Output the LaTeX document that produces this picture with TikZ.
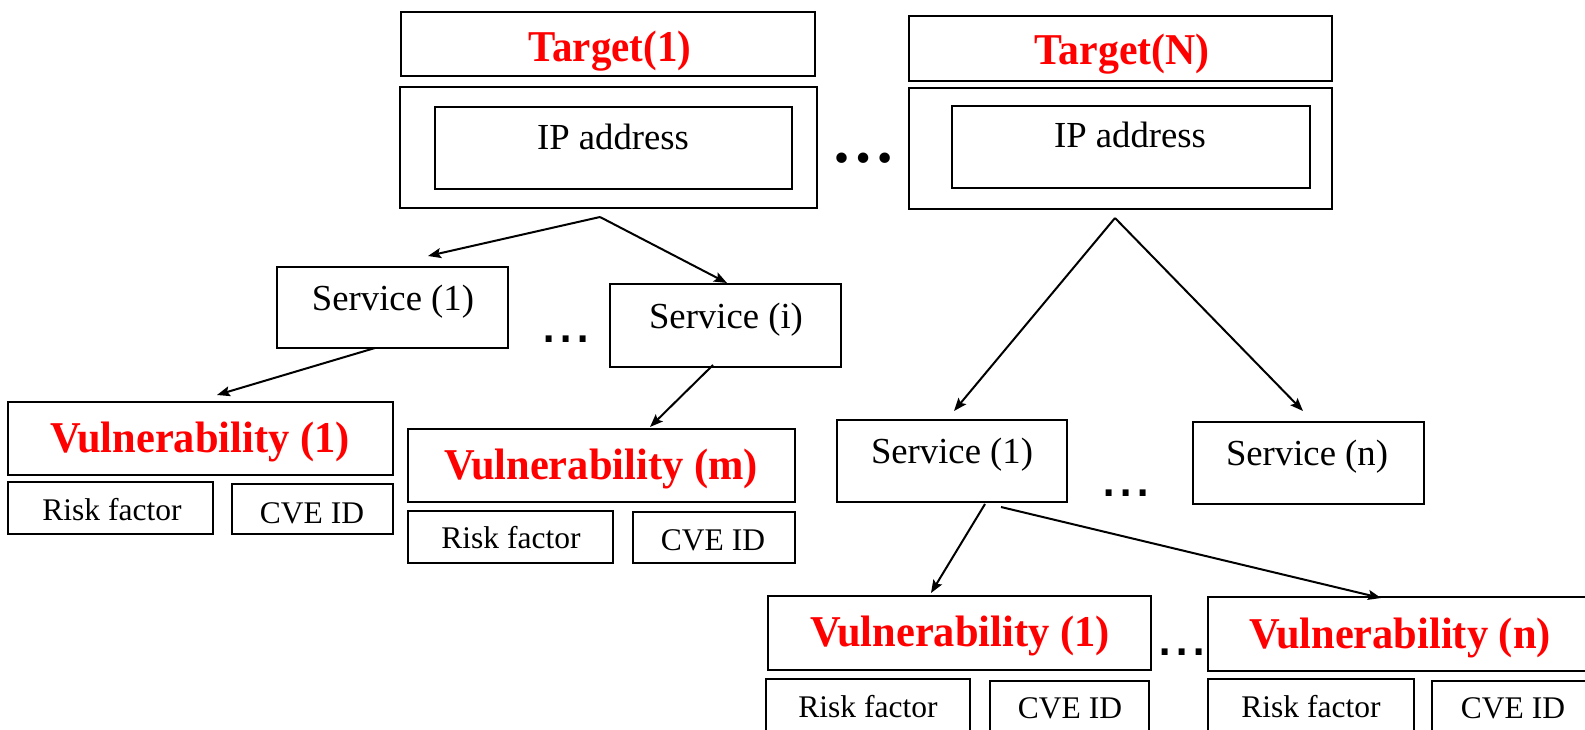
\documentclass[tikz,border=0pt]{standalone}
\usepackage{fontspec}
\setmainfont{Liberation Serif}
\newfontfamily\dotsfont{Liberation Sans}
\usetikzlibrary{arrows.meta}
\definecolor{vred}{RGB}{255,0,0}
\newcommand\boxat[6]{\node[#1, minimum width={(#5)-(#3)}, minimum height={(#6)-(#4)}] (#2) at ({((#3)+(#5))/2},{((#4)+(#6))/2}) {};}
\newcommand\narrow[2]{\scalebox{#1}[1]{#2}}
\begin{document}
\begin{tikzpicture}[x=1pt,y=-1pt,
  thickbox/.style={draw, line width=2.8pt, rectangle, inner sep=0pt},
  thinbox/.style={draw, line width=2pt, rectangle, inner sep=0pt},
  tgtlbl/.style={anchor=base, text=vred, inner sep=0pt, font=\fontsize{44}{44}\selectfont\bfseries},
  vullbl/.style={anchor=base, text=vred, inner sep=0pt, font=\fontsize{44}{44}\selectfont\bfseries},
  iplbl/.style={anchor=base, inner sep=0pt, font=\fontsize{36.7}{37}\selectfont},
  smalllbl/.style={anchor=base, inner sep=0pt, font=\fontsize{31.5}{32}\selectfont},
  dotslbl/.style={anchor=base, inner sep=0pt, font=\fontsize{64}{64}\selectfont\bfseries},
  sqdots/.style={anchor=base, inner sep=0pt, font=\dotsfont\fontsize{62}{62}\selectfont},
  arr/.style={line width=2pt, -{Stealth[length=13pt,width=10pt,inset=2.5pt]}}]
\useasboundingbox (0,0) rectangle (1585,730);
\clip (0,0) rectangle (1585,730);
% targets
\boxat{thickbox}{t1}{401}{12}{815}{76}
\boxat{thickbox}{ip1o}{400}{87}{817}{208}
\boxat{thinbox}{ip1i}{435}{107}{792}{189}
\boxat{thickbox}{tN}{909}{16}{1332}{81}
\boxat{thickbox}{ipNo}{909}{88}{1332}{209}
\boxat{thinbox}{ipNi}{952}{106}{1310}{188}
\node[tgtlbl] (t1l) at (610,62) {\narrow{0.93}{Target(1)}};
\node[tgtlbl] (tNl) at (1122,65) {\narrow{0.95}{Target(N)}};
\node[iplbl] (ip1l) at (613,150) {IP address};
\node[iplbl] (ipNl) at (1130,148) {IP address};
% services
\boxat{thinbox}{s1}{277}{267}{508}{348}
\boxat{thinbox}{si}{610}{284}{841}{367}
\boxat{thinbox}{s1r}{837}{420}{1067}{502}
\boxat{thinbox}{sn}{1193}{422}{1424}{504}
\node[iplbl] (s1l) at (393,310) {Service (1)};
\node[iplbl] (sil) at (726,328) {Service (i)};
\node[iplbl] (s1rl) at (952,463) {Service (1)};
\node[iplbl] (snl) at (1307,465) {Service (n)};
% vulnerabilities
\boxat{thickbox}{v1}{8}{402}{393}{475}
\boxat{thinbox}{r1}{8}{482}{213}{534}
\boxat{thinbox}{c1}{232}{484}{393}{534}
\boxat{thickbox}{vm}{408}{429}{795}{502}
\boxat{thinbox}{rm}{408}{511}{613}{563}
\boxat{thinbox}{cm}{633}{512}{795}{563}
\boxat{thickbox}{v1b}{768}{596}{1151}{670}
\boxat{thinbox}{r1b}{766}{679}{970}{732}
\boxat{thinbox}{c1b}{990}{681}{1149}{732}
\boxat{thickbox}{vn}{1208}{597}{1594}{671}
\boxat{thinbox}{rn}{1208}{679}{1414}{732}
\boxat{thinbox}{cn}{1432}{681}{1594}{732}
\node[vullbl] (v1l) at (200,452) {\narrow{0.965}{Vulnerability (1)}};
\node[vullbl] (vml) at (601,479) {\narrow{0.965}{Vulnerability (m)}};
\node[vullbl] (v1bl) at (960,646) {\narrow{0.965}{Vulnerability (1)}};
\node[vullbl] (vnl) at (1400,648) {\narrow{0.965}{Vulnerability (n)}};
\node[smalllbl] (r1l) at (112,520) {Risk factor};
\node[smalllbl] (c1l) at (312,523) {CVE ID};
\node[smalllbl] (rml) at (511,548) {Risk factor};
\node[smalllbl] (cml) at (713,550) {CVE ID};
\node[smalllbl] (r1bl) at (868,717) {Risk factor};
\node[smalllbl] (c1bl) at (1070,718) {CVE ID};
\node[smalllbl] (rnl) at (1311,717) {Risk factor};
\node[smalllbl] (cnl) at (1513,718) {CVE ID};
% dots
\node[dotslbl] (d1) at (863,163) {…};
\node[sqdots] (d2) at (566,342) {...};
\node[sqdots] (d3) at (1126,496) {...};
\node[sqdots] (d4) at (1182,655) {...};
% connector end points
\coordinate (a1s) at (600,217);
\coordinate (a1e) at (428,256);
\coordinate (a2e) at (727,283);
\coordinate (a3s) at (375,348);
\coordinate (a3e) at (217,395);
\coordinate (a4s) at (713,365);
\coordinate (a4e) at (650,427);
\coordinate (a5s) at (1115,218);
\coordinate (a5e) at (954,411);
\coordinate (a6e) at (1303,411);
\coordinate (a7s) at (985,504);
\coordinate (a7e) at (931,593);
\coordinate (a8s) at (1001,507);
\coordinate (a8e) at (1381,598);
\draw[arr] (a1s) -- (a1e);
\draw[arr] (a1s) -- (a2e);
\draw[arr] (a3s) -- (a3e);
\draw[arr] (a4s) -- (a4e);
\draw[arr] (a5s) -- (a5e);
\draw[arr] (a5s) -- (a6e);
\draw[arr] (a7s) -- (a7e);
\draw[arr] (a8s) -- (a8e);
\end{tikzpicture}
\end{document}
